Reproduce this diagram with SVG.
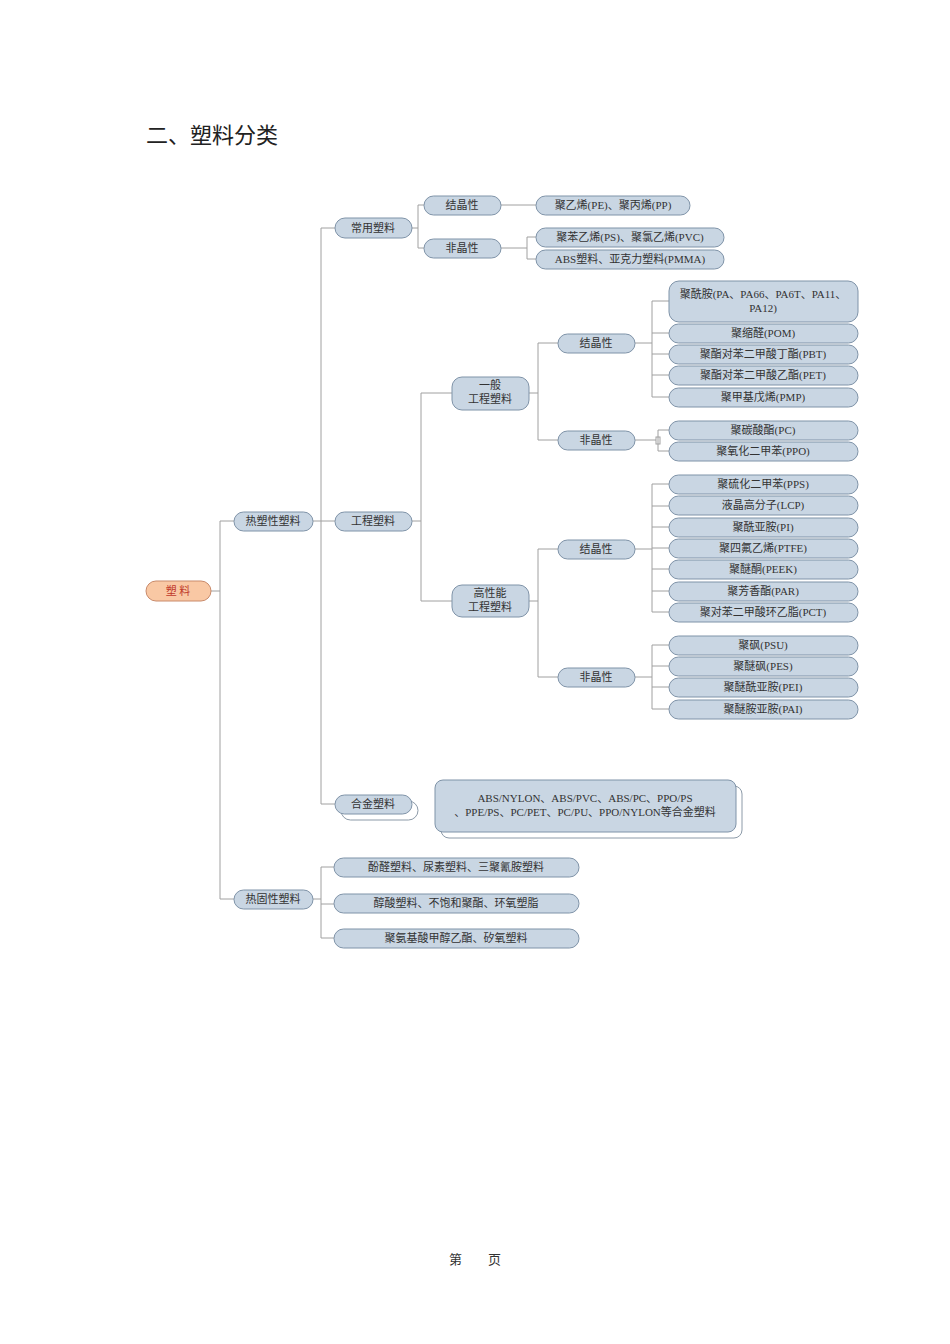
<svg xmlns="http://www.w3.org/2000/svg" width="950" height="1344" viewBox="0 0 950 1344">
<style>
.n{fill:#c9d6e3;stroke:#7f93a8;stroke-width:1}
.s{fill:#fff;stroke:#8c9aa8;stroke-width:1}
.t{font-family:"Liberation Serif","Noto Sans CJK SC",serif;font-size:11px;fill:#333;text-anchor:middle}
.c{fill:none;stroke:#a0a0a0;stroke-width:1}
</style>
<rect width="950" height="1344" fill="#fff"/>
<text x="146" y="143" style="font-family:'Liberation Serif','Noto Sans CJK SC',serif;font-size:22px;fill:#222">二、塑料分类</text>
<text x="475" y="1264" class="t" style="font-size:13px">第　　页</text>
<g id="connectors" class="c">
<path d="M211 591H220M220 521V899M220 521H234M220 899H234"/>
<path d="M313 521H321M321 228V804M321 228H335M321 521H335M321 804H335"/>
<path d="M412 228H418M418 205V248M418 205H424M418 248H424"/>
<path d="M501 205H536M501 248H527M527 237V259M527 237H536M527 259H536"/>
<path d="M412 521H421M421 393V601M421 393H452M421 601H452"/>
<path d="M529 393H538M538 343V440M538 343H558M538 440H558"/>
<path d="M635 343H652M652 301V397M652 301H669M652 333H669M652 354H669M652 375H669M652 397H669"/>
<path d="M635 440H656M658 430V451M658 430H669M658 451H669"/>
<rect x="656" y="437" width="4" height="7"/>
<path d="M529 601H538M538 549V677M538 549H558M538 677H558"/>
<path d="M635 549H652M652 484V612M652 484H669M652 506H669M652 527H669M652 548H669M652 569H669M652 591H669M652 612H669"/>
<path d="M635 677H652M652 645V709M652 645H669M652 666H669M652 687H669M652 709H669"/>
<path d="M313 899H321M321 867V938M321 867H334M321 904H334M321 938H334"/>
</g>
<g id="root"><rect x="146" y="581" width="65" height="20" rx="10" fill="#f9c8a4" stroke="#c98a6a"/><text x="178" y="595" class="t" style="fill:#c0392b">塑 料</text></g>
<g id="n1"><rect class="n" x="234" y="512" width="79" height="19" rx="9.5"/><text class="t" x="273" y="525">热塑性塑料</text></g>
<g id="n2"><rect class="n" x="234" y="890" width="79" height="19" rx="9.5"/><text class="t" x="273" y="903">热固性塑料</text></g>
<g id="n3"><rect class="n" x="335" y="218" width="77" height="20" rx="10"/><text class="t" x="373" y="232">常用塑料</text></g>
<g id="n4"><rect class="n" x="335" y="512" width="77" height="19" rx="9.5"/><text class="t" x="373" y="525">工程塑料</text></g>
<g id="n5"><rect class="s" x="341" y="801" width="77" height="19" rx="9.5"/><rect class="n" x="335" y="795" width="77" height="19" rx="9.5"/><text class="t" x="373" y="808">合金塑料</text></g>
<g id="n6"><rect class="n" x="424" y="196" width="77" height="19" rx="9.5"/><text class="t" x="462" y="209">结晶性</text></g>
<g id="n7"><rect class="n" x="424" y="239" width="77" height="19" rx="9.5"/><text class="t" x="462" y="252">非晶性</text></g>
<g id="n8"><rect class="n" x="536" y="196" width="154" height="19" rx="9.5"/><text class="t" x="613" y="209">聚乙烯(PE)、聚丙烯(PP)</text></g>
<g id="n9"><rect class="n" x="536" y="228" width="188" height="19" rx="9.5"/><text class="t" x="630" y="241">聚苯乙烯(PS)、聚氯乙烯(PVC)</text></g>
<g id="n10"><rect class="n" x="536" y="250" width="188" height="19" rx="9.5"/><text class="t" x="630" y="263">ABS塑料、亚克力塑料(PMMA)</text></g>
<g id="n11"><rect class="n" x="452" y="377" width="77" height="33" rx="10"/><text class="t" x="490" y="389">一般</text><text class="t" x="490" y="403">工程塑料</text></g>
<g id="n12"><rect class="n" x="452" y="585" width="77" height="32" rx="10"/><text class="t" x="490" y="597">高性能</text><text class="t" x="490" y="611">工程塑料</text></g>
<g id="n13"><rect class="n" x="558" y="334" width="77" height="19" rx="9.5"/><text class="t" x="596" y="347">结晶性</text></g>
<g id="n14"><rect class="n" x="558" y="431" width="77" height="19" rx="9.5"/><text class="t" x="596" y="444">非晶性</text></g>
<g id="n15"><rect class="n" x="558" y="540" width="77" height="19" rx="9.5"/><text class="t" x="596" y="553">结晶性</text></g>
<g id="n16"><rect class="n" x="558" y="668" width="77" height="19" rx="9.5"/><text class="t" x="596" y="681">非晶性</text></g>
<g id="n17"><rect class="n" x="669" y="281" width="189" height="41" rx="10"/><text class="t" x="763" y="298">聚酰胺(PA、PA66、PA6T、PA11、</text><text class="t" x="763" y="312">PA12)</text></g>
<g id="n18"><rect class="n" x="669" y="324" width="189" height="19" rx="9.5"/><text class="t" x="763" y="337">聚缩醛(POM)</text></g>
<g id="n19"><rect class="n" x="669" y="345" width="189" height="19" rx="9.5"/><text class="t" x="763" y="358">聚酯对苯二甲酸丁酯(PBT)</text></g>
<g id="n20"><rect class="n" x="669" y="366" width="189" height="19" rx="9.5"/><text class="t" x="763" y="379">聚酯对苯二甲酸乙酯(PET)</text></g>
<g id="n21"><rect class="n" x="669" y="388" width="189" height="19" rx="9.5"/><text class="t" x="763" y="401">聚甲基戊烯(PMP)</text></g>
<g id="n22"><rect class="n" x="669" y="421" width="189" height="19" rx="9.5"/><text class="t" x="763" y="434">聚碳酸酯(PC)</text></g>
<g id="n23"><rect class="n" x="669" y="442" width="189" height="19" rx="9.5"/><text class="t" x="763" y="455">聚氧化二甲苯(PPO)</text></g>
<g id="n24"><rect class="n" x="669" y="475" width="189" height="19" rx="9.5"/><text class="t" x="763" y="488">聚硫化二甲苯(PPS)</text></g>
<g id="n25"><rect class="n" x="669" y="496" width="189" height="19" rx="9.5"/><text class="t" x="763" y="509">液晶高分子(LCP)</text></g>
<g id="n26"><rect class="n" x="669" y="518" width="189" height="19" rx="9.5"/><text class="t" x="763" y="531">聚酰亚胺(PI)</text></g>
<g id="n27"><rect class="n" x="669" y="539" width="189" height="19" rx="9.5"/><text class="t" x="763" y="552">聚四氟乙烯(PTFE)</text></g>
<g id="n28"><rect class="n" x="669" y="560" width="189" height="19" rx="9.5"/><text class="t" x="763" y="573">聚醚酮(PEEK)</text></g>
<g id="n29"><rect class="n" x="669" y="582" width="189" height="19" rx="9.5"/><text class="t" x="763" y="595">聚芳香酯(PAR)</text></g>
<g id="n30"><rect class="n" x="669" y="603" width="189" height="19" rx="9.5"/><text class="t" x="763" y="616">聚对苯二甲酸环乙脂(PCT)</text></g>
<g id="n31"><rect class="n" x="669" y="636" width="189" height="19" rx="9.5"/><text class="t" x="763" y="649">聚砜(PSU)</text></g>
<g id="n32"><rect class="n" x="669" y="657" width="189" height="19" rx="9.5"/><text class="t" x="763" y="670">聚醚砜(PES)</text></g>
<g id="n33"><rect class="n" x="669" y="678" width="189" height="19" rx="9.5"/><text class="t" x="763" y="691">聚醚酰亚胺(PEI)</text></g>
<g id="n34"><rect class="n" x="669" y="700" width="189" height="19" rx="9.5"/><text class="t" x="763" y="713">聚醚胺亚胺(PAI)</text></g>
<g id="n35"><rect class="s" x="441" y="786" width="301" height="52" rx="8"/><rect class="n" x="435" y="780" width="301" height="52" rx="8"/><text class="t" x="585" y="802">ABS/NYLON、ABS/PVC、ABS/PC、PPO/PS</text><text class="t" x="585" y="816">、PPE/PS、PC/PET、PC/PU、PPO/NYLON等合金塑料</text></g>
<g id="n36"><rect class="n" x="334" y="858" width="245" height="19" rx="9.5"/><text class="t" x="456" y="871">酚醛塑料、尿素塑料、三聚氰胺塑料</text></g>
<g id="n37"><rect class="n" x="334" y="894" width="245" height="19" rx="9.5"/><text class="t" x="456" y="907">醇酸塑料、不饱和聚酯、环氧塑脂</text></g>
<g id="n38"><rect class="n" x="334" y="929" width="245" height="19" rx="9.5"/><text class="t" x="456" y="942">聚氨基酸甲醇乙酯、矽氧塑料</text></g>
</svg>
